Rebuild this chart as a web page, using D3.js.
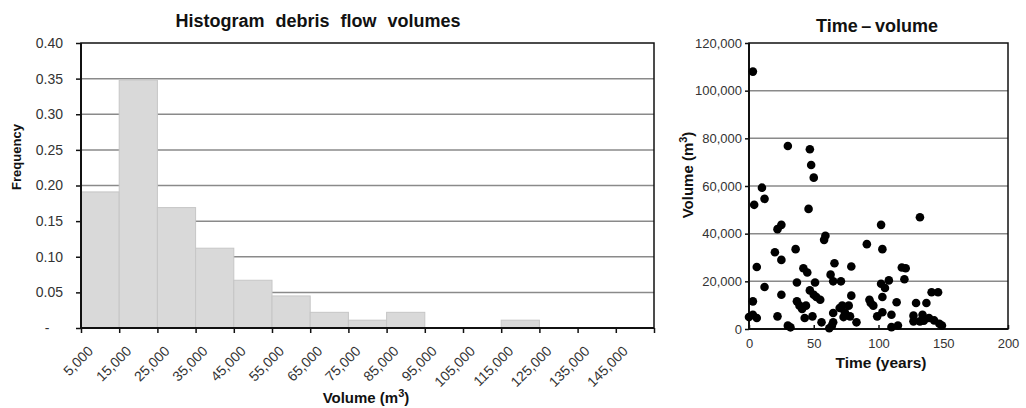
<!DOCTYPE html>
<html>
<head>
<meta charset="utf-8">
<script src="https://cdn.jsdelivr.net/npm/d3@7"></script>
<style>
  html, body { margin: 0; padding: 0; background: #fff; }
  svg { display: block; font-family: "Liberation Sans", Arial, sans-serif; }
</style>
</head>
<body>
<svg id="chart" width="1026" height="408"></svg>
<script>
// Histogram: bin lower bounds (m3), their labels and relative frequency per bin
const binStarts = [5000, 15000, 25000, 35000, 45000, 55000, 65000, 75000, 85000, 95000, 105000, 115000, 125000, 135000, 145000];
const binLabels = ["5,000", "15,000", "25,000", "35,000", "45,000", "55,000", "65,000", "75,000", "85,000", "95,000", "105,000", "115,000", "125,000", "135,000", "145,000"];
const frequencies = [0.191, 0.348, 0.169, 0.112, 0.067, 0.045, 0.022, 0.011, 0.022, 0, 0, 0.011, 0, 0, 0];
const freqTicks = [0, 0.05, 0.10, 0.15, 0.20, 0.25, 0.30, 0.35, 0.40];

// Scatter: time since event (years) and event volume (m3)
const years = [3, 30, 47, 48, 50, 10, 12, 4, 46, 132, 22, 25, 102, 59, 58, 91, 103, 36, 20, 25,
  6, 66, 79, 42, 45, 63, 118, 121, 120, 108, 102, 105, 103, 37, 51, 65, 71, 12, 47, 50,
  52, 55, 25, 79, 93, 94, 96, 114, 129, 137, 141, 146, 3, 37, 39, 41, 44, 65, 70, 72,
  74, 73, 78, 77, 0, 3, 6, 22, 43, 49, 56, 62, 64, 65, 30, 32, 83, 99, 103, 110,
  110, 115, 127, 127, 132, 134, 135, 139, 143, 147, 149];
const volumes = [108000, 76800, 75400, 68800, 63500, 59300, 54600, 52100, 50400, 46900, 41900, 43700, 43700, 39100, 37400, 35600, 33500, 33500, 32200, 29000,
  26000, 27600, 26200, 25500, 23700, 22800, 25800, 25500, 20900, 20400, 19000, 17200, 13400, 19500, 19500, 20000, 20000, 17600, 16200, 14400,
  13400, 12300, 14400, 14000, 12300, 10900, 9800, 11200, 10900, 10900, 15400, 15400, 11600, 11600, 9800, 8400, 9800, 6700, 8800, 9800,
  7000, 5000, 5300, 9800, 5000, 6000, 4600, 5300, 4600, 5300, 2800, 300, 1400, 2800, 1400, 700, 2800, 5300, 7000, 6000,
  800, 1500, 5600, 3200, 3200, 6000, 3500, 4600, 3600, 2200, 1500];
const volumeTicks = [0, 20000, 40000, 60000, 80000, 100000, 120000];
const yearTicks = [0, 50, 100, 150, 200];

const svg = d3.select("#chart");
const gridColor = "#8a8a8a";
const axisColor = "#111";
const labelColor = "#333";
const fmtThousands = d3.format(",");

// ---------- Histogram ----------
const h = { left: 81, right: 654, top: 43, bottom: 328 };
const hx = d3.scaleLinear().domain([5000, 155000]).range([h.left, h.right]);
const hy = d3.scaleLinear().domain([0, 0.40]).range([h.bottom, h.top]);
const binWidth = 10000;

const hist = svg.append("g");

// horizontal gridlines
hist.append("g").selectAll("line")
  .data(freqTicks.filter(d => d > 0 && d < 0.40))
  .join("line")
  .attr("x1", h.left).attr("x2", h.right)
  .attr("y1", d => hy(d)).attr("y2", d => hy(d))
  .attr("stroke", gridColor).attr("stroke-width", 1.5);

// bars
hist.append("g").selectAll("rect")
  .data(binStarts.map((s, i) => ({ s, f: frequencies[i] })).filter(d => d.f > 0))
  .join("rect")
  .attr("x", d => hx(d.s))
  .attr("width", d => hx(d.s + binWidth) - hx(d.s))
  .attr("y", d => hy(d.f))
  .attr("height", d => hy(0) - hy(d.f))
  .attr("fill", "#d9d9d9")
  .attr("stroke", "#c6c6c6")
  .attr("stroke-width", 1);

// frame
hist.append("rect")
  .attr("x", h.left).attr("y", h.top)
  .attr("width", h.right - h.left).attr("height", h.bottom - h.top)
  .attr("fill", "none").attr("stroke", axisColor).attr("stroke-width", 1.5);
hist.append("line")
  .attr("x1", h.left).attr("x2", h.left).attr("y1", h.top).attr("y2", h.bottom)
  .attr("stroke", axisColor).attr("stroke-width", 2);
hist.append("line")
  .attr("x1", h.left).attr("x2", h.right).attr("y1", h.bottom).attr("y2", h.bottom)
  .attr("stroke", axisColor).attr("stroke-width", 2);

// y axis
const hyAxis = hist.append("g")
  .attr("transform", `translate(${h.left},0)`)
  .call(d3.axisLeft(hy).tickValues(freqTicks).tickSize(5).tickPadding(13)
    .tickFormat(d => d === 0 ? "-" : d3.format(".2f")(d)));
hyAxis.select(".domain").remove();
hyAxis.selectAll("line").attr("stroke", axisColor).attr("stroke-width", 1.5);
hyAxis.selectAll("text").attr("font-size", 14).attr("fill", labelColor)
  .attr("font-family", "Liberation Sans, Arial, sans-serif");
hyAxis.selectAll("text").filter(d => d === 0).attr("text-anchor", "middle").attr("x", -34);

// x axis: ticks at bin boundaries, labels rotated
const hxAxis = hist.append("g")
  .attr("transform", `translate(0,${h.bottom})`)
  .call(d3.axisBottom(hx).tickValues(binStarts.concat([155000])).tickSize(5).tickFormat(""));
hxAxis.select(".domain").remove();
hxAxis.selectAll("line").attr("stroke", axisColor).attr("stroke-width", 1.5);

hist.append("g").selectAll("text")
  .data(binStarts)
  .join("text")
  .attr("transform", (d) => `translate(${hx(d) + 13},${h.bottom + 24}) rotate(-45)`)
  .attr("text-anchor", "end")
  .attr("font-size", 14)
  .attr("fill", labelColor)
  .text((d, i) => binLabels[i]);

// titles
hist.append("text")
  .attr("x", 318).attr("y", 26.5)
  .attr("text-anchor", "middle")
  .attr("font-size", 18).attr("font-weight", "bold").attr("fill", "#111")
  .attr("word-spacing", 6)
  .text("Histogram debris flow volumes");

hist.append("text")
  .attr("transform", `translate(21,157) rotate(-90)`)
  .attr("text-anchor", "middle")
  .attr("font-size", 13).attr("font-weight", "bold").attr("fill", "#111")
  .text("Frequency");

const hxTitle = hist.append("text")
  .attr("x", 366).attr("y", 403)
  .attr("text-anchor", "middle")
  .attr("font-size", 15).attr("font-weight", "bold").attr("fill", "#111");
hxTitle.append("tspan").text("Volume (m");
hxTitle.append("tspan").attr("baseline-shift", "super").attr("font-size", 11).text("3");
hxTitle.append("tspan").text(")");

// ---------- Scatter ----------
const s = { left: 749, right: 1008, top: 43, bottom: 329 };
const sx = d3.scaleLinear().domain([0, 200]).range([s.left, s.right]);
const sy = d3.scaleLinear().domain([0, 120000]).range([s.bottom, s.top]);

const sc = svg.append("g");

sc.append("g").selectAll("line")
  .data(volumeTicks.filter(d => d > 0 && d < 120000))
  .join("line")
  .attr("x1", s.left).attr("x2", s.right)
  .attr("y1", d => sy(d)).attr("y2", d => sy(d))
  .attr("stroke", gridColor).attr("stroke-width", 1.5);

sc.append("rect")
  .attr("x", s.left).attr("y", s.top)
  .attr("width", s.right - s.left).attr("height", s.bottom - s.top)
  .attr("fill", "none").attr("stroke", axisColor).attr("stroke-width", 1.5);
sc.append("line")
  .attr("x1", s.left).attr("x2", s.left).attr("y1", s.top).attr("y2", s.bottom)
  .attr("stroke", axisColor).attr("stroke-width", 2);
sc.append("line")
  .attr("x1", s.left).attr("x2", s.right).attr("y1", s.bottom).attr("y2", s.bottom)
  .attr("stroke", axisColor).attr("stroke-width", 2);

const syAxis = sc.append("g")
  .attr("transform", `translate(${s.left},0)`)
  .call(d3.axisLeft(sy).tickValues(volumeTicks).tickSize(4).tickPadding(3).tickFormat(fmtThousands));
syAxis.select(".domain").remove();
syAxis.selectAll("line").attr("stroke", axisColor).attr("stroke-width", 1.5);
syAxis.selectAll("text").attr("font-size", 13).attr("fill", labelColor)
  .attr("font-family", "Liberation Sans, Arial, sans-serif");

const sxAxis = sc.append("g")
  .attr("transform", `translate(0,${s.bottom})`)
  .call(d3.axisBottom(sx).tickValues(yearTicks).tickSizeInner(-4).tickSizeOuter(0).tickPadding(10));
sxAxis.select(".domain").remove();
sxAxis.selectAll("line").attr("stroke", axisColor).attr("stroke-width", 1.5);
sxAxis.selectAll("text").attr("font-size", 13).attr("fill", labelColor)
  .attr("font-family", "Liberation Sans, Arial, sans-serif");

sc.append("g").selectAll("circle")
  .data(years.map((t, i) => ({ t, v: volumes[i] })))
  .join("circle")
  .attr("cx", d => sx(d.t))
  .attr("cy", d => sy(d.v))
  .attr("r", 4.3)
  .attr("fill", "#000");

sc.append("text")
  .attr("x", 877).attr("y", 31.5)
  .attr("text-anchor", "middle")
  .attr("font-size", 18).attr("font-weight", "bold").attr("fill", "#111")
  .text("Time\u2009\u2013\u2009volume");

sc.append("text")
  .attr("x", 881).attr("y", 368)
  .attr("text-anchor", "middle")
  .attr("font-size", 15.5).attr("font-weight", "bold").attr("fill", "#111")
  .text("Time (years)");

const syTitle = sc.append("text")
  .attr("transform", `translate(693,175) rotate(-90)`)
  .attr("text-anchor", "middle")
  .attr("font-size", 15).attr("font-weight", "bold").attr("fill", "#111");
syTitle.append("tspan").text("Volume (m");
syTitle.append("tspan").attr("baseline-shift", "super").attr("font-size", 11).text("3");
syTitle.append("tspan").text(")");
</script>
</body>
</html>
